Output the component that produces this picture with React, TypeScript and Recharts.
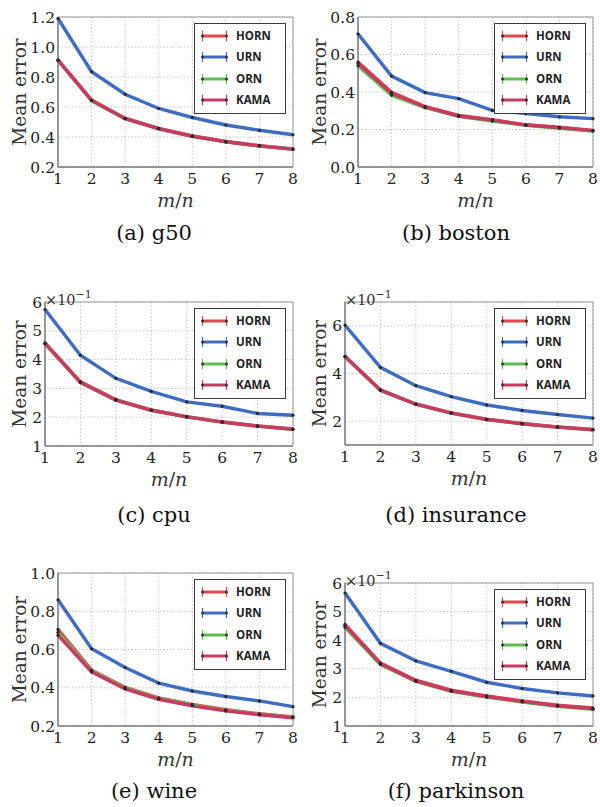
import React from 'react';
import { LineChart, Line, XAxis, YAxis, CartesianGrid, ReferenceArea, Legend } from 'recharts';

// ---------- data ----------
const ratios = [1, 2, 3, 4, 5, 6, 7, 8];
const seriesNames = ['HORN', 'URN', 'ORN', 'KAMA'];
const seriesColors = ['#e0484e', '#3d6dc2', '#5cbf4f', '#c93a62'];
const captions = ['(a) g50', '(b) boston', '(c) cpu', '(d) insurance', '(e) wine', '(f) parkinson'];

// (a) g50
const g50HORN = [0.915, 0.646, 0.525, 0.458, 0.407, 0.370, 0.342, 0.320];
const g50URN = [1.19, 0.835, 0.685, 0.590, 0.530, 0.480, 0.445, 0.415];
const g50ORN = [0.910, 0.643, 0.523, 0.456, 0.405, 0.368, 0.340, 0.318];
const g50KAMA = [0.912, 0.644, 0.522, 0.455, 0.405, 0.368, 0.341, 0.319];

// (b) boston
const bostonHORN = [0.560, 0.398, 0.322, 0.275, 0.252, 0.225, 0.212, 0.195];
const bostonURN = [0.710, 0.485, 0.397, 0.365, 0.302, 0.285, 0.268, 0.258];
const bostonORN = [0.540, 0.383, 0.316, 0.270, 0.245, 0.222, 0.207, 0.192];
const bostonKAMA = [0.552, 0.393, 0.320, 0.272, 0.250, 0.224, 0.210, 0.194];

// (c) cpu (x 10^-1)
const cpuHORN = [4.58, 3.23, 2.61, 2.25, 2.02, 1.84, 1.70, 1.59];
const cpuURN = [5.74, 4.15, 3.35, 2.90, 2.53, 2.38, 2.13, 2.07];
const cpuORN = [4.55, 3.20, 2.60, 2.24, 2.01, 1.83, 1.69, 1.58];
const cpuKAMA = [4.56, 3.21, 2.59, 2.24, 2.01, 1.83, 1.69, 1.58];

// (d) insurance (x 10^-1)
const insHORN = [4.72, 3.31, 2.72, 2.35, 2.08, 1.90, 1.76, 1.65];
const insURN = [6.03, 4.26, 3.49, 3.03, 2.68, 2.45, 2.28, 2.13];
const insORN = [4.70, 3.30, 2.71, 2.34, 2.07, 1.89, 1.75, 1.64];
const insKAMA = [4.71, 3.30, 2.71, 2.34, 2.07, 1.89, 1.75, 1.64];

// (e) wine
const wineHORN = [0.705, 0.492, 0.402, 0.347, 0.313, 0.285, 0.264, 0.248];
const wineURN = [0.860, 0.604, 0.506, 0.424, 0.383, 0.354, 0.331, 0.301];
const wineORN = [0.690, 0.487, 0.398, 0.344, 0.310, 0.282, 0.262, 0.246];
const wineKAMA = [0.675, 0.483, 0.394, 0.340, 0.306, 0.279, 0.259, 0.243];

// (f) parkinson (x 10^-1)
const parkHORN = [4.55, 3.20, 2.60, 2.25, 2.05, 1.88, 1.73, 1.63];
const parkURN = [5.65, 3.89, 3.28, 2.91, 2.53, 2.31, 2.16, 2.05];
const parkORN = [4.45, 3.15, 2.56, 2.21, 2.01, 1.84, 1.69, 1.58];
const parkKAMA = [4.52, 3.18, 2.58, 2.23, 2.03, 1.86, 1.71, 1.61];

const yDomains = [[0.2, 1.2], [0, 0.8], [1, 6], [1, 7], [0.2, 1.0], [1, 6]];
const yTicks = [
  [0.2, 0.4, 0.6, 0.8, 1.0, 1.2],
  [0.0, 0.2, 0.4, 0.6, 0.8],
  [1, 2, 3, 4, 5, 6],
  [2, 4, 6],
  [0.2, 0.4, 0.6, 0.8, 1.0],
  [1, 2, 3, 4, 5, 6],
];
const yDecimals = [1, 1, 0, 0, 1, 0];
const yScaled = [false, false, true, true, false, true];

const panelSeries = [
  [g50HORN, g50URN, g50ORN, g50KAMA],
  [bostonHORN, bostonURN, bostonORN, bostonKAMA],
  [cpuHORN, cpuURN, cpuORN, cpuKAMA],
  [insHORN, insURN, insORN, insKAMA],
  [wineHORN, wineURN, wineORN, wineKAMA],
  [parkHORN, parkURN, parkORN, parkKAMA],
];

// ---------- layout (page px) ----------
const layouts = [
  { col: 0, L: 58, R: 293, T: 17, B: 167, capY: 233 },
  { col: 1, L: 358, R: 593, T: 17, B: 167, capY: 233 },
  { col: 0, L: 45, R: 293, T: 302, B: 446, capY: 515 },
  { col: 1, L: 345, R: 593, T: 302, B: 445, capY: 515 },
  { col: 0, L: 58, R: 293, T: 573, B: 726, capY: 791 },
  { col: 1, L: 345, R: 593, T: 583, B: 726, capY: 791 },
];

const SERIF = '"DejaVu Serif", "Liberation Serif", serif';

const LegendBox = () => (
  <div
    style={{
      width: 92,
      height: 91,
      boxSizing: 'border-box',
      border: '1px solid #3a3a3a',
      background: '#fff',
      paddingTop: 1,
    }}
  >
    {seriesNames.map((n, i) => (
      <div key={n} style={{ height: 21.5, display: 'flex', alignItems: 'center' }}>
        <svg width={41} height={14} style={{ display: 'block', flex: 'none' }}>
          <line x1={7.5} x2={31.5} y1={7} y2={7} stroke={seriesColors[i]} strokeWidth={3} />
          <line x1={7.5} x2={7.5} y1={2} y2={12} stroke={seriesColors[i]} strokeWidth={1.2} />
          <line x1={31.5} x2={31.5} y1={2} y2={12} stroke={seriesColors[i]} strokeWidth={1.2} />
          <circle cx={7.5} cy={7} r={1.5} fill="#333" />
          <circle cx={31.5} cy={7} r={1.5} fill="#333" />
        </svg>
        <span
          style={{
            fontFamily: '"Open Sans", "Noto Sans", sans-serif',
            fontWeight: 700,
            fontSize: 11.5,
            color: '#222',
            lineHeight: '14px',
          }}
        >
          {n}
        </span>
      </div>
    ))}
  </div>
);

const Panel = ({ idx }: { idx: number }) => {
  const lay = layouts[idx];
  const colX = lay.col * 300;
  const localL = lay.L - colX;
  const localR = lay.R - colX;
  const top = 20;
  const plotH = lay.B - lay.T;
  const localB = top + plotH;
  const height = plotH + 20 + 48;
  const series = panelSeries[idx];
  const data = ratios.map((x, i) => {
    const row: any = { x };
    seriesNames.forEach((n, s) => {
      row[n] = series[s][i];
    });
    return row;
  });
  const dom = yDomains[idx];
  const dec = yDecimals[idx];

  const yLabel = () => (
    <g>
      <text
        transform={`translate(20,${(top + localB) / 2}) rotate(-90)`}
        textAnchor="middle"
        dy="0.35em"
        fontFamily={SERIF}
        fontSize={18.5}
        fill="#333"
      >
        Mean error
      </text>
      {yScaled[idx] && (
        <text x={localL} y={top + 3} fontFamily={SERIF} fontSize={14.5} fill="#333">
          ×10
          <tspan dy={-7} fontSize={11}>
            −1
          </tspan>
        </text>
      )}
    </g>
  );

  const xLabel = () => (
    <text
      x={(localL + localR) / 2}
      y={localB + 40}
      textAnchor="middle"
      fontFamily={SERIF}
      fontSize={19}
      fill="#333"
    >
      <tspan fontStyle="italic">m</tspan>/<tspan fontStyle="italic">n</tspan>
    </text>
  );

  return (
    <div style={{ position: 'absolute', left: colX, top: lay.T - top, width: 300, height }}>
      <LineChart
        width={300}
        height={height}
        data={data}
        margin={{ top, right: 300 - localR, bottom: 0, left: 4 }}
      >
        <CartesianGrid stroke="#c4c4c4" strokeDasharray="1.5 2" />
        <ReferenceArea
          x1={1}
          x2={8}
          y1={dom[0]}
          y2={dom[1]}
          fill="none"
          stroke="#9a9a9a"
          strokeWidth={1}
        />
        <XAxis
          dataKey="x"
          type="number"
          domain={[1, 8]}
          ticks={ratios}
          interval={0}
          height={48}
          tickSize={0}
          tickMargin={6}
          axisLine={{ stroke: '#666' }}
          tick={{ fontFamily: SERIF, fontSize: 15.5, fill: '#222' }}
          label={xLabel}
        />
        <YAxis
          type="number"
          domain={dom}
          ticks={yTicks[idx]}
          interval={0}
          allowDataOverflow
          width={localL - 4}
          tickSize={0}
          tickMargin={3}
          axisLine={{ stroke: '#666' }}
          tick={{ fontFamily: SERIF, fontSize: 15.5, fill: '#222' }}
          tickFormatter={(v: number) => v.toFixed(dec)}
          label={yLabel}
        />
        {seriesNames.map((n, s) => (
          <Line
            key={n}
            dataKey={n}
            type="linear"
            stroke={seriesColors[s]}
            strokeWidth={3.4}
            dot={{ r: 1.6, fill: '#2a2a2a', stroke: 'none', strokeWidth: 0 }}
            activeDot={false}
            isAnimationActive={false}
          />
        ))}
        <Legend
          layout="vertical"
          align="center"
          verticalAlign="middle"
          wrapperStyle={{ left: localR - 7 - 92, top: top + 6, width: 92, height: 91 }}
          content={() => <LegendBox />}
        />
      </LineChart>
    </div>
  );
};

export default function App() {
  return (
    <div
      style={{
        position: 'absolute',
        left: 0,
        top: 0,
        width: 600,
        height: 807,
        background: '#fff',
        overflow: 'hidden',
      }}
    >
      {layouts.map((lay, i) => (
        <Panel key={i} idx={i} />
      ))}
      {layouts.map((lay, i) => (
        <div
          key={'cap' + i}
          style={{
            position: 'absolute',
            left: (lay.col === 0 ? 154 : 456) - 120,
            top: lay.capY - 13,
            width: 240,
            height: 26,
            lineHeight: '26px',
            textAlign: 'center',
            fontFamily: SERIF,
            fontSize: 21,
            color: '#111',
          }}
        >
          {captions[i]}
        </div>
      ))}
    </div>
  );
}
